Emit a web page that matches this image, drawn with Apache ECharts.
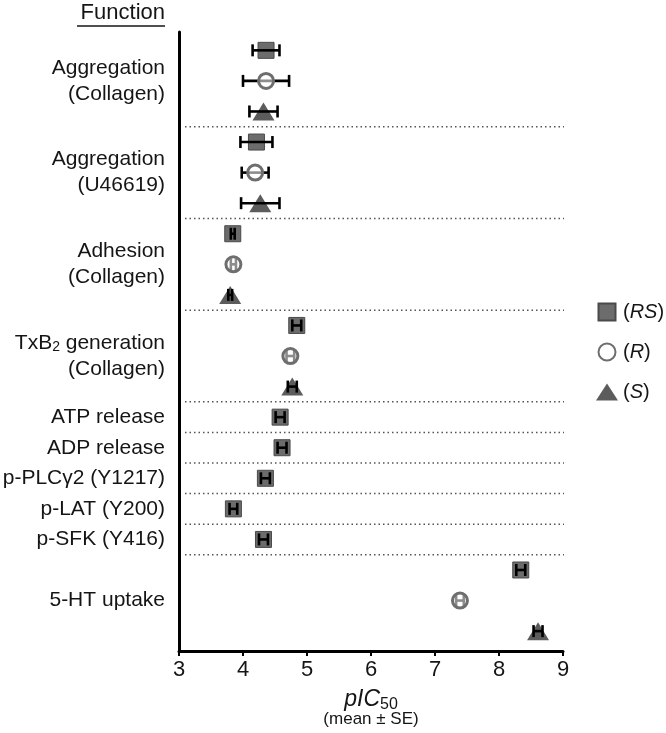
<!DOCTYPE html>
<html>
<head>
<meta charset="utf-8">
<script src="https://cdn.jsdelivr.net/npm/echarts@6/dist/echarts.min.js"></script>
<style>html,body{margin:0;padding:0;background:#fff}#c{width:666px;height:733px}</style>
</head>
<body>
<div id="c"></div>
<script>
// ---- data ----
const functionLabels = [
  'Aggregation\n(Collagen)',
  'Aggregation\n(U46619)',
  'Adhesion\n(Collagen)',
  'TxB{sub|2} generation\n(Collagen)',
  'ATP release',
  'ADP release',
  'p-PLCγ2 (Y1217)',
  'p-LAT (Y200)',
  'p-SFK (Y416)',
  '5-HT uptake'
];
// (RS) racemate
const rsMean = [4.36, 4.21, 3.84, 4.84, 4.58, 4.61, 4.35, 3.85, 4.32, 8.34];
const rsSE   = [0.21, 0.25, 0.03, 0.07, 0.07, 0.07, 0.07, 0.06, 0.07, 0.07];
// (R) enantiomer
const rMean  = [4.36, 4.19, 3.85, 4.74, null, null, null, null, null, 7.39];
const rSE    = [0.36, 0.21, 0.04, 0.06, null, null, null, null, null, 0.06];
// (S) enantiomer
const sMean  = [4.32, 4.27, 3.80, 4.77, null, null, null, null, null, 8.61];
const sSE    = [0.22, 0.30, 0.03, 0.07, null, null, null, null, null, 0.07];
const xTicks = [3, 4, 5, 6, 7, 8, 9];

// ---- build slot layout (one row per compound inside each function) ----
const rsPts = [], rPts = [], sPts = [], errRS = [], errR = [], errS = [];
const labelPts = [], dividers = [];
let slot = 0;
functionLabels.forEach((lab, i) => {
  const start = slot;
  rsPts.push([rsMean[i], slot]); errRS.push([rsMean[i], slot, rsSE[i]]); slot++;
  if (rMean[i] != null) { rPts.push([rMean[i], slot]); errR.push([rMean[i], slot, rSE[i]]); slot++; }
  if (sMean[i] != null) { sPts.push([sMean[i], slot]); errS.push([sMean[i], slot, sSE[i]]); slot++; }
  labelPts.push([3, (start + slot - 1) / 2, i]);
  if (i < functionLabels.length - 1) dividers.push([3, slot - 0.5]);
});

const TXT = '#151515';
const FONT = '"Liberation Sans", Arial, sans-serif';
const chart = echarts.init(document.getElementById('c'), null, {renderer: 'canvas'});

function errRender(params, api) {
  const x = api.value(0), y = api.value(1), se = api.value(2);
  const a = api.coord([x - se, y]), b = api.coord([x + se, y]);
  const h = 6;
  const st = {stroke: '#000', lineWidth: 2.6};
  return {type: 'group', children: [
    {type: 'line', shape: {x1: a[0], y1: a[1], x2: b[0], y2: b[1]}, style: st},
    {type: 'line', shape: {x1: a[0], y1: a[1] - h, x2: a[0], y2: a[1] + h}, style: st},
    {type: 'line', shape: {x1: b[0], y1: b[1] - h, x2: b[0], y2: b[1] + h}, style: st}
  ]};
}

const option = {
  animation: false,
  backgroundColor: '#fff',
  textStyle: {fontFamily: FONT},
  grid: {left: 179, right: 103, top: 32, bottom: 80},
  legend: {
    orient: 'vertical', left: 591, top: 297,
    itemWidth: 22, itemHeight: 17, itemGap: 20,
    data: [
      {name: 'RS', icon: 'path://M0,0h10v10h-10z'},
      {name: 'R'},
      {name: 'S'}
    ],
    formatter: n => '({i|' + n + '})',
    textStyle: {fontSize: 20, color: TXT, lineHeight: 20,
      rich: {i: {fontStyle: 'italic', fontSize: 20, color: TXT}}}
  },
  xAxis: {
    type: 'value', min: 3, max: 9, interval: 1,
    axisLine: {show: true, onZero: false, lineStyle: {color: '#000', width: 3}},
    axisTick: {show: true, length: 5, lineStyle: {color: '#000', width: 2}},
    axisLabel: {fontSize: 22, color: TXT, margin: 8, formatter: v => xTicks.includes(v) ? String(v) : ''},
    splitLine: {show: false},
    name: '{i|pIC}{sub|50}\n{s|(mean ± SE)}',
    nameLocation: 'middle', nameGap: 37,
    nameTextStyle: {
      rich: {
        i: {fontStyle: 'italic', fontSize: 23, color: TXT, lineHeight: 23},
        sub: {fontSize: 16, color: TXT, lineHeight: 23, padding: [10, 0, 0, 0]},
        s: {fontSize: 17, color: TXT, lineHeight: 17}
      }
    }
  },
  yAxis: {
    type: 'value', inverse: true, min: -0.6, max: 19.65,
    axisLine: {show: true, onZero: false, lineStyle: {color: '#000', width: 3}},
    axisTick: {show: false}, axisLabel: {show: false}, splitLine: {show: false}
  },
  graphic: [
    {type: 'text', right: 666 - 165, top: 2, style: {text: 'Function', font: '22px ' + FONT, fill: TXT}},
    {type: 'line', shape: {x1: 77, y1: 26, x2: 165, y2: 26}, style: {stroke: TXT, lineWidth: 1.6}}
  ],
  series: [
    {
      type: 'custom', name: 'dividers', silent: true, clip: false, z: 1,
      data: dividers,
      renderItem: (params, api) => {
        const a = api.coord([api.value(0), api.value(1)]);
        const b = api.coord([9, api.value(1)]);
        return {type: 'line', shape: {x1: a[0] + 6, y1: a[1], x2: b[0] + 1, y2: b[1]},
          style: {stroke: '#555', lineWidth: 1.5, lineDash: [1.5, 3]}};
      }
    },
    {
      type: 'custom', name: 'labels', silent: true, clip: false,
      data: labelPts,
      renderItem: (params, api) => {
        const p = api.coord([api.value(0), api.value(1)]);
        return {type: 'text', x: p[0] - 14, y: p[1],
          style: {text: functionLabels[api.value(2)], align: 'right', verticalAlign: 'middle',
            fontSize: 21, fontFamily: FONT, fill: TXT, lineHeight: 26,
            rich: {sub: {fontSize: 14, fill: TXT, padding: [9, 0, 0, 0], lineHeight: 26}}}};
      }
    },
    {type: 'custom', name: 'errR', clip: false, z: 2, data: errR, renderItem: errRender},
    {
      type: 'scatter', name: 'R', data: rPts, symbol: 'circle', symbolSize: 15, z: 3,
      itemStyle: {color: 'rgba(255,255,255,0.55)', borderColor: '#6e6e6e', borderWidth: 3, opacity: 1}
    },
    {
      type: 'scatter', name: 'RS', data: rsPts, symbol: 'rect', symbolSize: 16, z: 3,
      itemStyle: {color: '#6c6c6c', borderColor: '#4a4a4a', borderWidth: 1, opacity: 1}
    },
    {
      type: 'scatter', name: 'S', data: sPts, symbol: 'triangle', symbolSize: [22, 18], z: 3,
      itemStyle: {color: '#5c5c5c', opacity: 1}
    },
    {type: 'custom', name: 'errRS', clip: false, z: 4, data: errRS, renderItem: errRender},
    {type: 'custom', name: 'errS', clip: false, z: 4, data: errS, renderItem: errRender}
  ]
};
chart.setOption(option);
</script>
</body>
</html>
